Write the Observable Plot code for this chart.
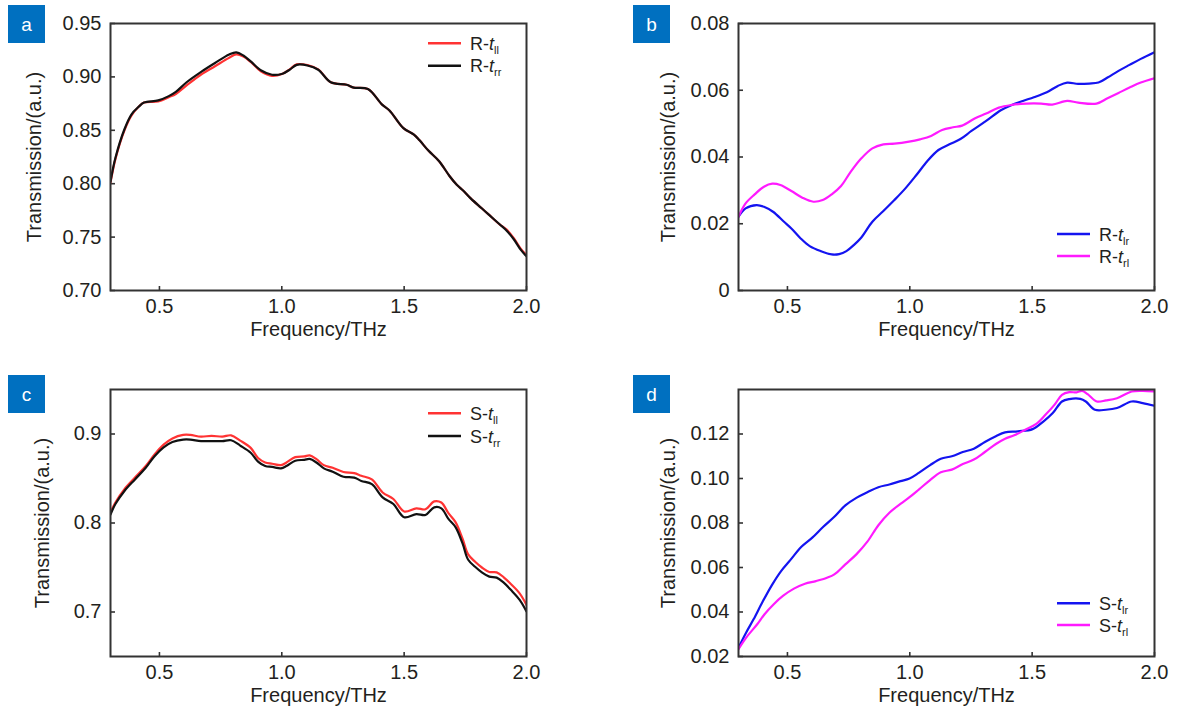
<!DOCTYPE html>
<html>
<head>
<meta charset="utf-8">
<script src="https://cdn.jsdelivr.net/npm/d3@7"></script>
<script src="https://cdn.jsdelivr.net/npm/@observablehq/plot@0.6"></script>
<style>
  html, body { margin: 0; padding: 0; background: #ffffff; }
  #root { position: relative; width: 1177px; height: 714px; overflow: hidden; background: #fff; }
  #root svg { position: absolute; }
</style>
</head>
<body>
<div id="root"></div>
<script>
// ---------- data ----------
const xDomain = [0.3, 2.0];
const xTicks = [0.5, 1.0, 1.5, 2.0];
const xTickLabels = ["0.5", "1.0", "1.5", "2.0"];
const xLabel = "Frequency/THz";
const yLabel = "Transmission/(a.u.)";

// panel a
const aYTicks = [0.70, 0.75, 0.80, 0.85, 0.90, 0.95];
const aYTickLabels = ["0.70", "0.75", "0.80", "0.85", "0.90", "0.95"];
const aFreq = [0.30,0.32,0.357,0.386,0.415,0.437,0.495,0.538,0.567,0.611,0.669,0.727,0.785,0.814,0.843,0.873,0.916,0.960,1.003,1.032,1.061,1.105,1.149,1.20,1.265,1.294,1.352,1.41,1.44,1.497,1.54,1.563,1.599,1.643,1.686,1.715,1.744,1.773,1.817,1.846,1.890,1.919,1.948,1.977,2.0];
const aTll = [0.801,0.823,0.850,0.864,0.872,0.876,0.877,0.881,0.884,0.892,0.902,0.910,0.918,0.921,0.919,0.914,0.905,0.901,0.903,0.907,0.9118,0.911,0.907,0.895,0.8926,0.890,0.8886,0.874,0.8686,0.852,0.846,0.8406,0.831,0.821,0.807,0.799,0.793,0.786,0.777,0.771,0.762,0.757,0.749,0.739,0.733];
const aTrr = [0.802,0.824,0.851,0.865,0.872,0.876,0.878,0.882,0.886,0.895,0.9045,0.913,0.921,0.923,0.920,0.9145,0.906,0.902,0.903,0.9067,0.9113,0.9107,0.9067,0.895,0.8926,0.890,0.8886,0.874,0.8686,0.852,0.846,0.8406,0.831,0.821,0.807,0.799,0.793,0.786,0.777,0.771,0.762,0.756,0.748,0.738,0.732];

// panel b
const bYTicks = [0, 0.02, 0.04, 0.06, 0.08];
const bYTickLabels = ["0", "0.02", "0.04", "0.06", "0.08"];
const bFreqLr = [0.3,0.329,0.374,0.404,0.441,0.486,0.516,0.554,0.591,0.636,0.681,0.711,0.741,0.771,0.802,0.847,0.892,0.937,0.982,1.027,1.072,1.117,1.162,1.207,1.252,1.312,1.372,1.417,1.462,1.507,1.560,1.605,1.643,1.688,1.733,1.771,1.808,1.853,1.898,1.944,2.0];
const bTlr = [0.0221,0.0246,0.0256,0.0251,0.0236,0.0206,0.0186,0.0156,0.0133,0.0118,0.0108,0.0109,0.0118,0.0136,0.0159,0.0206,0.0238,0.0271,0.0306,0.0346,0.0388,0.0421,0.0438,0.0454,0.0478,0.0508,0.054,0.0556,0.0568,0.0579,0.0594,0.0613,0.0623,0.0619,0.062,0.0623,0.0638,0.0658,0.0676,0.0694,0.0714];
const bFreqRl = [0.3,0.329,0.366,0.404,0.438,0.471,0.516,0.561,0.606,0.644,0.681,0.719,0.757,0.802,0.847,0.892,0.937,0.997,1.042,1.087,1.132,1.177,1.214,1.267,1.312,1.364,1.417,1.477,1.537,1.582,1.643,1.688,1.763,1.808,1.853,1.898,1.944,2.0];
const bTrl = [0.0221,0.0261,0.0288,0.0311,0.032,0.0316,0.0298,0.0278,0.0266,0.0271,0.0288,0.0313,0.0354,0.0396,0.0426,0.0438,0.044,0.0446,0.0453,0.0463,0.0481,0.0489,0.0494,0.0516,0.053,0.0548,0.0556,0.056,0.056,0.0557,0.0568,0.0563,0.056,0.0576,0.0592,0.0608,0.0623,0.0636];

// panel c
const cYTicks = [0.7, 0.8, 0.9];
const cYTickLabels = ["0.7", "0.8", "0.9"];
const cFreq = [0.3,0.32,0.357,0.4,0.444,0.48,0.517,0.553,0.597,0.626,0.67,0.713,0.757,0.793,0.83,0.873,0.903,0.932,0.961,0.997,1.019,1.055,1.092,1.114,1.143,1.172,1.208,1.252,1.296,1.325,1.368,1.412,1.456,1.5,1.55,1.587,1.623,1.652,1.681,1.71,1.739,1.761,1.79,1.819,1.848,1.878,1.907,1.936,1.972,2.0];
const cTll = [0.812,0.823,0.838,0.851,0.864,0.877,0.888,0.895,0.899,0.899,0.897,0.898,0.897,0.8985,0.8926,0.8844,0.873,0.868,0.8666,0.865,0.868,0.874,0.8748,0.876,0.8714,0.865,0.862,0.8573,0.856,0.853,0.849,0.8343,0.827,0.813,0.8165,0.8154,0.8243,0.823,0.811,0.801,0.782,0.765,0.7564,0.7497,0.745,0.7445,0.739,0.7315,0.721,0.708];
const cTrr = [0.8095,0.8213,0.836,0.849,0.862,0.875,0.885,0.891,0.8937,0.8937,0.892,0.892,0.892,0.893,0.887,0.879,0.869,0.864,0.863,0.8614,0.864,0.870,0.871,0.872,0.8677,0.8614,0.8577,0.852,0.851,0.8473,0.8436,0.8288,0.8213,0.8065,0.810,0.809,0.8176,0.8165,0.8046,0.7954,0.7768,0.759,0.7508,0.7442,0.7397,0.7386,0.733,0.7249,0.7137,0.7007];

// panel d
const dYTicks = [0.02, 0.04, 0.06, 0.08, 0.10, 0.12];
const dYTickLabels = ["0.02", "0.04", "0.06", "0.08", "0.10", "0.12"];
const dFreqLr = [0.3,0.3315,0.3615,0.399,0.4365,0.474,0.5115,0.557,0.6015,0.6465,0.6916,0.7366,0.7816,0.8266,0.8716,0.9166,0.9617,0.999,1.0367,1.0817,1.1267,1.1717,1.2167,1.2618,1.3068,1.3518,1.3893,1.4418,1.5018,1.5468,1.5843,1.6218,1.6518,1.6968,1.7193,1.7568,1.8018,1.8468,1.9069,1.9519,2.0];
const dTlr = [0.024,0.0308,0.0367,0.0447,0.0521,0.0584,0.0633,0.0693,0.0734,0.0783,0.0828,0.0879,0.0913,0.0938,0.0961,0.0973,0.0988,0.1,0.1025,0.1059,0.1089,0.11,0.1119,0.1134,0.1164,0.119,0.1207,0.1212,0.1222,0.1257,0.1294,0.1346,0.1357,0.1358,0.1346,0.1309,0.1309,0.1317,0.1346,0.1339,0.1327];
const dFreqRl = [0.3,0.3315,0.3765,0.4065,0.444,0.4815,0.5265,0.5716,0.6166,0.6616,0.6916,0.7366,0.7816,0.8266,0.8716,0.9166,0.9617,0.999,1.0367,1.0817,1.1267,1.1717,1.2167,1.2618,1.3068,1.3518,1.3893,1.4268,1.4718,1.5168,1.5543,1.5918,1.6218,1.6518,1.6818,1.7043,1.7268,1.7643,1.8018,1.8468,1.9069,1.9519,2.0];
const dTrl = [0.0233,0.0285,0.0345,0.039,0.0435,0.0472,0.0505,0.0527,0.0539,0.0554,0.0569,0.0614,0.0659,0.0716,0.079,0.0846,0.0886,0.0916,0.095,0.0992,0.1028,0.104,0.1065,0.1085,0.1119,0.1155,0.1179,0.1194,0.1219,0.1245,0.1286,0.1332,0.1376,0.1388,0.1387,0.1394,0.1379,0.1346,0.1351,0.1361,0.1391,0.1394,0.1391];

// ---------- styling ----------
const FONT = '"Liberation Sans", Arial, Helvetica, sans-serif';
const TEXT = "#231f20";
const FRAME = "#333333";
const C_RED = "#ff3333", C_BLACK = "#111111", C_BLUE = "#1414f0", C_MAG = "#ff1aff";
const FS = 20;

const rows = (xs, ys) => xs.map((f, i) => ({f, v: ys[i]}));
const root = document.getElementById("root");

function panel(cfg) {
  const lines = cfg.series.map(s =>
    Plot.line(rows(s.x, s.y), {x: "f", y: "v", stroke: s.color, strokeWidth: 2.2, curve: "catmull-rom", clip: true}));
  const chart = Plot.plot({
    width: cfg.width, height: cfg.height,
    marginTop: cfg.mt, marginBottom: cfg.mb, marginLeft: cfg.ml, marginRight: cfg.mr,
    x: {domain: xDomain, label: null},
    y: {domain: cfg.yDomain, label: null},
    style: {fontFamily: FONT, fontSize: FS + "px", color: TEXT, background: "transparent", overflow: "visible"},
    marks: [
      Plot.axisX(xTicks, {tickSize: 0, tickPadding: 8, label: null, fontSize: FS,
        tickFormat: d => xTickLabels[xTicks.indexOf(d)], fill: TEXT}),
      Plot.axisX(xTicks, {tickSize: 4, dy: -4, text: null, label: null, stroke: FRAME, strokeWidth: 1.6}),
      Plot.axisY(cfg.yTicks, {tickSize: 0, tickPadding: 9, label: null, fontSize: FS,
        tickFormat: d => cfg.yTickLabels[cfg.yTicks.indexOf(d)], fill: TEXT}),
      Plot.axisY(cfg.yTicks, {tickSize: 5, dx: 5, text: null, label: null, stroke: FRAME, strokeWidth: 1.6}),
      ...lines,
      Plot.frame({stroke: FRAME, strokeWidth: 2}),
      Plot.text([xLabel], {frameAnchor: "bottom", dy: 45, fontSize: FS, fill: TEXT}),
      Plot.text([yLabel], {frameAnchor: "left", dx: cfg.ylabDx, rotate: -90, textAnchor: "middle", fontSize: FS, fill: TEXT})
    ]
  });
  chart.style.left = cfg.left + "px";
  chart.style.top = cfg.top + "px";
  root.appendChild(chart);
}

panel({left: 0, top: 0, width: 560, height: 357, mt: 23, mb: 67, ml: 110, mr: 34,
  yDomain: [0.70, 0.95], yTicks: aYTicks, yTickLabels: aYTickLabels, ylabDx: -76,
  series: [{x: aFreq, y: aTll, color: C_RED}, {x: aFreq, y: aTrr, color: C_BLACK}]});
panel({left: 600, top: 0, width: 577, height: 357, mt: 23, mb: 67, ml: 138, mr: 23,
  yDomain: [0, 0.08], yTicks: bYTicks, yTickLabels: bYTickLabels, ylabDx: -70,
  series: [{x: bFreqLr, y: bTlr, color: C_BLUE}, {x: bFreqRl, y: bTrl, color: C_MAG}]});
panel({left: 0, top: 360, width: 560, height: 354, mt: 29, mb: 58, ml: 110, mr: 34,
  yDomain: [0.65, 0.95], yTicks: cYTicks, yTickLabels: cYTickLabels, ylabDx: -68,
  series: [{x: cFreq, y: cTll, color: C_RED}, {x: cFreq, y: cTrr, color: C_BLACK}]});
panel({left: 600, top: 360, width: 577, height: 354, mt: 29, mb: 58, ml: 138, mr: 23,
  yDomain: [0.02, 0.14], yTicks: dYTicks, yTickLabels: dYTickLabels, ylabDx: -70,
  series: [{x: dFreqLr, y: dTlr, color: C_BLUE}, {x: dFreqRl, y: dTrl, color: C_MAG}]});

// ---------- overlay: panel letters and legends ----------
const panelLetters = ["a", "b", "c", "d"];
const letterPos = [[8, 5], [633, 5], [8, 375], [633, 375]];
const legends = [
  {x: 428, ys: [43.3, 65.7], prefix: "R-", subs: ["ll", "rr"], colors: [C_RED, C_BLACK]},
  {x: 1057, ys: [234, 256], prefix: "R-", subs: ["lr", "rl"], colors: [C_BLUE, C_MAG]},
  {x: 428, ys: [413.3, 436], prefix: "S-", subs: ["ll", "rr"], colors: [C_RED, C_BLACK]},
  {x: 1057, ys: [603.3, 625], prefix: "S-", subs: ["lr", "rl"], colors: [C_BLUE, C_MAG]}
];
const ns = "http://www.w3.org/2000/svg";
const ov = document.createElementNS(ns, "svg");
ov.setAttribute("width", 1177); ov.setAttribute("height", 714);
ov.style.left = "0px"; ov.style.top = "0px";
ov.setAttribute("font-family", FONT);
function el(tag, attrs, parent) {
  const e = document.createElementNS(ns, tag);
  for (const k in attrs) e.setAttribute(k, attrs[k]);
  parent.appendChild(e); return e;
}
panelLetters.forEach((L, i) => {
  const [x, y] = letterPos[i];
  el("rect", {x, y, width: 37, height: 38, fill: "#0070c0"}, ov);
  const t = el("text", {x: x + 18.5, y: y + 25.5, "text-anchor": "middle", fill: "#fff", "font-size": 19}, ov);
  t.textContent = L;
});
legends.forEach(lg => {
  lg.ys.forEach((y, j) => {
    el("line", {x1: lg.x, x2: lg.x + 33, y1: y, y2: y, stroke: lg.colors[j], "stroke-width": 2.6}, ov);
    const t = el("text", {x: lg.x + 42, y: y + 6.5, fill: TEXT, "font-size": 18}, ov);
    const a = el("tspan", {}, t); a.textContent = lg.prefix;
    const b = el("tspan", {"font-style": "italic"}, t); b.textContent = "t";
    const c = el("tspan", {"font-size": 11, dy: 4}, t); c.textContent = lg.subs[j];
  });
});
root.appendChild(ov);
</script>
</body>
</html>
